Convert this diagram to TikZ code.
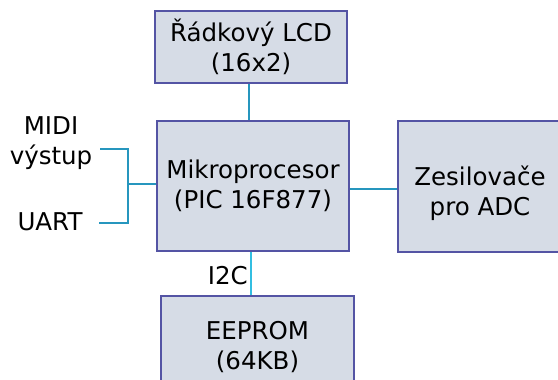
\documentclass[tikz,border=0pt]{standalone}
\usepackage{fontspec}
\setmainfont{DejaVu Sans}
\definecolor{boxfill}{RGB}{214,220,230}
\definecolor{boxdraw}{RGB}{84,84,164}
\definecolor{wire}{RGB}{38,150,190}
\definecolor{wirelight}{RGB}{50,190,225}
\begin{document}
\begin{tikzpicture}[x=1pt,y=-1pt,
  blk/.style={draw=boxdraw,fill=boxfill,line width=2pt,align=center,inner sep=0pt,
    font=\fontsize{24.5}{30}\selectfont},
  lbl/.style={align=center,inner sep=0pt,font=\fontsize{24.5}{30}\selectfont},
  wr/.style={draw=wire,line width=2.5pt}]
\useasboundingbox (0,0) rectangle (558,380);
\clip (0,0) rectangle (558,380);
\node[blk,minimum width=192pt,minimum height=72pt] (lcd) at (251,47) {Řádkový LCD\\(16x2)};
\node[blk,minimum width=192pt,minimum height=130pt] (mcu) at (253,186) {Mikroprocesor\\(PIC 16F877)};
\node[blk,minimum width=164pt,minimum height=131pt] (amp) at (480,186.5) {};
\node[lbl] (ampt) at (480,193) {Zesilovače\\pro ADC};
\node[blk,minimum width=193pt,minimum height=104pt] (eep) at (257.5,348) {};
\node[lbl] (eept) at (257.5,347) {EEPROM\\(64KB)};
\node[lbl] (midi) at (51,143) {MIDI\\výstup};
\node[lbl] (uart) at (50,222) {UART};
\coordinate (jm) at (100,149);
\coordinate (ju) at (99,223);
\coordinate (bx) at (128,184);
\draw[wr] (jm) -- (jm -| bx) -- (ju -| bx) -- (ju);
\draw[wr] (bx) -- (bx -| mcu.west);
\draw[wr] ([xshift=-2pt]lcd.south) -- ([xshift=-2pt]lcd.south |- mcu.north);
\draw[wr] (mcu.east |- 0,189) -- (amp.west |- 0,189);
\draw[draw=wirelight,line width=2.5pt] ([xshift=-2pt]mcu.south) -- ([xshift=-2pt]mcu.south |- eep.north) coordinate (i2cend);
\node[lbl,anchor=east] (i2c) at (248,276) {I2C};
\end{tikzpicture}
\end{document}
